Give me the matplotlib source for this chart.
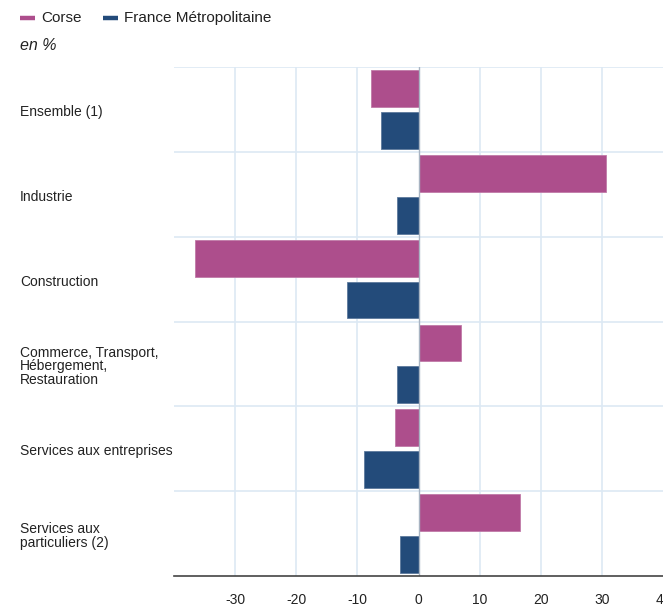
import matplotlib
matplotlib.use("Agg")
import matplotlib.pyplot as plt
from matplotlib.transforms import blended_transform_factory
from matplotlib.lines import Line2D

plt.rcParams['font.family'] = ['Liberation Sans', 'DejaVu Sans']

categories = ["Ensemble (1)", "Industrie", "Construction",
              "Commerce, Transport,\nHébergement,\nRestauration",
              "Services aux entreprises", "Services aux\nparticuliers (2)"]
corse = [-7.8, 30.7, -36.5, 6.9, -3.8, 16.6]
france = [-6.1, -3.5, -11.7, -3.5, -8.9, -3.05]
xticks = [-30, -20, -10, 0, 10, 20, 30, 40]

c_corse = "#ad4e8c"
c_france = "#234b7a"

fig = plt.figure(figsize=(6.63, 6.05), dpi=100)
ax = fig.add_axes([174/663, 1-576/605, 1-174/663, (576-67)/605])

n = len(categories)
ys = list(range(n))
h = 0.435
off = 0.247
ax.barh([y - off for y in ys], corse, height=h, color=c_corse, edgecolor="#c07aa8", linewidth=0.6, zorder=3)
ax.barh([y + off for y in ys], france, height=h, color=c_france, edgecolor="#5d7a9c", linewidth=0.6, zorder=3)

ax.set_xlim(-40, 40)
ax.set_ylim(n - 0.5, -0.5)

grid_c = "#dde9f4"
for x in [-30, -20, -10, 10, 20, 30]:
    ax.axvline(x, color=grid_c, lw=1.2, zorder=1)
for b in range(n):
    ax.axhline(b - 0.5, color=grid_c, lw=1.2, zorder=1)
ax.axvline(0, color="#a8b4c2", lw=1.0, zorder=4)

for s in ["top", "right", "left"]:
    ax.spines[s].set_visible(False)
ax.spines["bottom"].set_color("#444444")
ax.spines["bottom"].set_linewidth(1.2)
ax.spines["bottom"].set_zorder(5)

ax.set_yticks([])
ax.set_xticks(xticks)
ax.set_xticklabels([str(t) for t in xticks], fontsize=10, color="#222222")
ax.tick_params(axis="x", length=0, pad=12)
for lbl in ax.get_xticklabels():
    lbl.set_clip_on(False)

tr = blended_transform_factory(fig.transFigure, ax.transData)
for y, lab in zip(ys, categories):
    ax.text(20/663, y + 0.03, lab, transform=tr, ha="left", va="center",
            fontsize=10, color="#222222", linespacing=0.98)

# legend
fig.add_artist(Line2D([20/663, 35/663], [1-18/605]*2, color=c_corse, lw=3.2, solid_capstyle="butt"))
fig.text(41/663, 1-18/605, "Corse", fontsize=11, va="center", ha="left", color="#222222")
fig.add_artist(Line2D([103/663, 118/663], [1-18/605]*2, color=c_france, lw=3.2, solid_capstyle="butt"))
fig.text(124/663, 1-18/605, "France Métropolitaine", fontsize=11, va="center", ha="left", color="#222222")
fig.text(20/663, 1-46/605, "en %", fontsize=11.5, style="italic", va="center", ha="left", color="#222222")

fig.savefig("out.png", dpi=100)
